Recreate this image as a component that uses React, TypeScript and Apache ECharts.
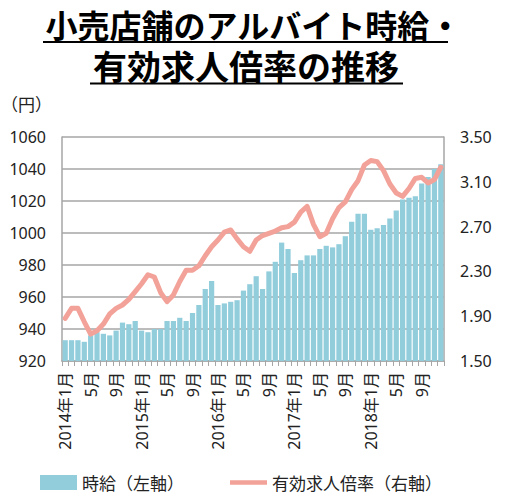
import React, { useEffect, useRef } from "react";
import * as echarts from "echarts";

const years = [2014, 2015, 2016, 2017, 2018];
const months = [1, 2, 3, 4, 5, 6, 7, 8, 9, 10, 11, 12];
const categories: string[] = years.flatMap((y) =>
  months.map((m) => (m === 1 ? `${y}年1月` : `${m}月`))
);

const wages = [
  933, 933, 933, 932, 936, 938, 937, 936, 939, 944,
  943, 945, 939, 938, 940, 940, 945, 945, 947, 945,
  950, 955, 965, 970, 955, 956, 957, 958, 964, 968,
  973, 965, 976, 982, 994, 990, 975, 983, 986, 986,
  990, 992, 991, 993, 998, 1007, 1012, 1012, 1002, 1003,
  1005, 1009, 1014, 1021, 1022, 1023, 1031, 1035, 1040, 1043,
];

const ratio = [
  1.88, 1.97, 1.97, 1.85, 1.74, 1.77, 1.83, 1.92, 1.97, 2.0,
  2.05, 2.12, 2.19, 2.27, 2.25, 2.11, 2.03, 2.09, 2.21, 2.31,
  2.31, 2.35, 2.44, 2.52, 2.58, 2.65, 2.67, 2.59, 2.52, 2.48,
  2.58, 2.62, 2.64, 2.66, 2.69, 2.7, 2.74, 2.83, 2.88, 2.72,
  2.61, 2.64, 2.77, 2.87, 2.92, 3.03, 3.11, 3.25, 3.29, 3.28,
  3.2, 3.08, 3.0, 2.97, 3.04, 3.13, 3.14, 3.09, 3.12, 3.23,
];

const titleLine1 = "小売店舗のアルバイト時給・";
const titleLine2 = "有効求人倍率の推移";
const unitLabel = "（円）";
const seriesNames = ["時給（左軸）", "有効求人倍率（右軸）"];

const FONT = "'Noto Sans', 'Noto Sans CJK JP', sans-serif";
const CJK = "'Noto Sans CJK JP', sans-serif";
const GRAY = "#a6a6a6";
const BAR_COLOR = "#92CDDC";
const LINE_COLOR = "#F2A299";

export default function App() {
  const ref = useRef<HTMLDivElement>(null);
  useEffect(() => {
    if (!ref.current) return;
    const chart = echarts.init(ref.current, undefined, { renderer: "svg" });
    chart.setOption({
      animation: false,
      backgroundColor: "#ffffff",
      grid: { left: 62, right: 63, top: 137, bottom: 137, containLabel: false },
      legend: {
        left: 40,
        top: 474,
        padding: 0,
        itemWidth: 37,
        itemHeight: 15,
        itemGap: 46,
        textStyle: { fontSize: 17, color: "#222", fontFamily: CJK },
        data: [
          { name: seriesNames[0], icon: "rect" },
          {
            name: seriesNames[1],
            icon: "path://M0,0 L40,0 L40,5 L0,5 Z",
            itemStyle: { color: LINE_COLOR },
          },
        ],
      },
      graphic: [
        {
          type: "text",
          left: "center",
          top: 8,
          style: {
            text: titleLine1,
            fontSize: 32,
            fontWeight: "bold",
            fontFamily: CJK,
            fill: "#000",
          },
        },
        {
          type: "line",
          shape: { x1: 43, y1: 42, x2: 448, y2: 42 },
          style: { stroke: "#000", lineWidth: 2 },
        },
        {
          type: "text",
          x: 246,
          y: 48,
          style: {
            text: titleLine2,
            fontSize: 34,
            fontWeight: "bold",
            fontFamily: CJK,
            fill: "#000",
            align: "center",
          },
        },
        {
          type: "line",
          shape: { x1: 90, y1: 83.5, x2: 403, y2: 83.5 },
          style: { stroke: "#000", lineWidth: 2 },
        },
        {
          type: "text",
          left: 1,
          top: 95,
          style: {
            text: unitLabel,
            fontSize: 17,
            fontFamily: CJK,
            fill: "#222",
          },
        },
      ],
      xAxis: {
        type: "category",
        data: categories,
        boundaryGap: true,
        axisLine: { show: true, lineStyle: { color: GRAY, width: 1.5 } },
        axisTick: {
          show: true,
          interval: 0,
          alignWithLabel: false,
          length: 5,
          lineStyle: { color: GRAY, width: 1 },
        },
        axisLabel: {
          interval: 3,
          rotate: 90,
          margin: 11,
          fontSize: 16,
          color: "#222",
          fontFamily: FONT,
        },
      },
      yAxis: [
        {
          type: "value",
          min: 920,
          max: 1060,
          interval: 20,
          axisLine: { show: true, lineStyle: { color: GRAY, width: 1.5 } },
          axisTick: { show: false },
          splitLine: { show: true, lineStyle: { color: GRAY, width: 1.5 } },
          axisLabel: {
            fontSize: 16,
            color: "#222",
            margin: 16,
            fontFamily: FONT,
            formatter: (v: number) => String(v),
          },
        },
        {
          type: "value",
          min: 1.5,
          max: 3.5,
          interval: 0.4,
          axisLine: { show: true, lineStyle: { color: GRAY, width: 1.5 } },
          axisTick: { show: false },
          splitLine: { show: false },
          axisLabel: {
            fontSize: 16,
            color: "#222",
            margin: 16,
            fontFamily: FONT,
            formatter: (v: number) => v.toFixed(2),
          },
        },
      ],
      series: [
        {
          name: seriesNames[0],
          type: "bar",
          yAxisIndex: 0,
          data: wages,
          barCategoryGap: "18%",
          itemStyle: { color: BAR_COLOR },
        },
        {
          name: seriesNames[1],
          type: "line",
          yAxisIndex: 1,
          data: ratio,
          symbol: "none",
          smooth: false,
          lineStyle: { color: LINE_COLOR, width: 5, join: "round", cap: "round" },
          itemStyle: { color: LINE_COLOR },
        },
      ],
    });
    return () => chart.dispose();
  }, []);
  return (
    <div
      ref={ref}
      style={{ position: "fixed", left: 0, top: 0, width: 507, height: 498 }}
    />
  );
}
